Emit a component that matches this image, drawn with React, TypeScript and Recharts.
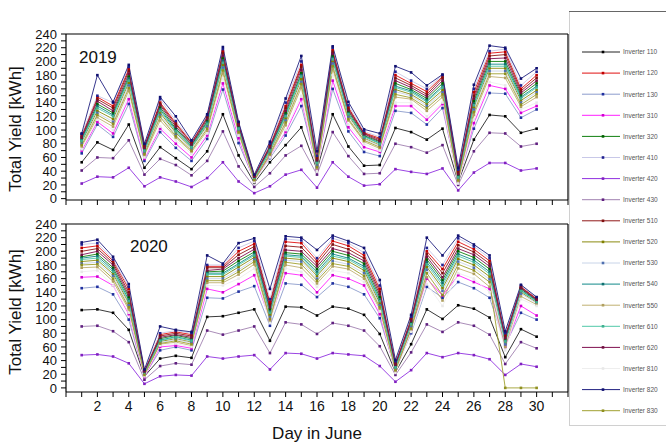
import React from "react";
import { LineChart, Line, XAxis, YAxis } from "recharts";

const days = [1, 2, 3, 4, 5, 6, 7, 8, 9, 10, 11, 12, 13, 14, 15, 16, 17, 18, 19, 20, 21, 22, 23, 24, 25, 26, 27, 28, 29, 30];
const xTicks = [0, 1, 2, 3, 4, 5, 6, 7, 8, 9, 10, 11, 12, 13, 14, 15, 16, 17, 18, 19, 20, 21, 22, 23, 24, 25, 26, 27, 28, 29, 30, 31, 32];
const yTicks = [0, 10, 20, 30, 40, 50, 60, 70, 80, 90, 100, 110, 120, 130, 140, 150, 160, 170, 180, 190, 200, 210, 220, 230, 240];

// June 2019, daily yield per inverter [kWh]
const inv110_2019 = [53, 82, 71, 108, 45, 75, 59, 43, 69, 123, 63, 23, 53, 78, 104, 42, 123, 76, 48, 49, 103, 97, 86, 102, 24, 86, 122, 120, 96, 102];
const inv120_2019 = [92, 148, 135, 189, 77, 140, 110, 82, 120, 215, 110, 33, 78, 135, 195, 60, 217, 133, 96, 88, 180, 168, 156, 178, 40, 155, 212, 214, 160, 180];
const inv130_2019 = [66, 108, 90, 138, 55, 97, 74, 55, 87, 159, 81, 27, 59, 92, 135, 45, 160, 98, 68, 62, 128, 125, 108, 132, 28, 102, 154, 153, 118, 130];
const inv310_2019 = [70, 112, 95, 145, 58, 102, 80, 60, 92, 168, 88, 25, 62, 97, 145, 42, 172, 104, 75, 68, 135, 135, 115, 138, 25, 110, 165, 160, 125, 135];
const inv320_2019 = [87, 138, 125, 178, 73, 133, 102, 78, 113, 205, 105, 31, 73, 125, 183, 55, 208, 127, 92, 83, 168, 159, 146, 168, 34, 142, 200, 200, 151, 168];
const inv410_2019 = [94, 150, 140, 192, 79, 145, 113, 84, 121, 218, 111, 34, 80, 140, 200, 62, 220, 136, 98, 90, 185, 172, 160, 180, 42, 160, 215, 218, 165, 185];
const inv420_2019 = [22, 32, 31, 45, 18, 31, 25, 17, 30, 53, 25, 8, 18, 35, 42, 16, 53, 32, 19, 21, 43, 39, 36, 44, 12, 38, 52, 52, 41, 44];
const inv430_2019 = [41, 60, 59, 85, 35, 58, 49, 34, 55, 98, 47, 17, 37, 63, 77, 35, 97, 62, 36, 37, 80, 75, 67, 78, 20, 69, 96, 95, 76, 80];
const inv510_2019 = [90, 145, 132, 186, 76, 138, 108, 81, 118, 212, 108, 33, 76, 132, 192, 58, 214, 131, 95, 86, 176, 165, 152, 176, 38, 150, 208, 210, 157, 176];
const inv520_2019 = [82, 128, 116, 169, 68, 125, 96, 74, 107, 195, 100, 29, 68, 117, 174, 50, 200, 121, 88, 78, 159, 152, 138, 158, 30, 133, 190, 190, 143, 158];
const inv530_2019 = [80, 125, 112, 165, 67, 122, 93, 72, 105, 191, 99, 28, 66, 114, 170, 48, 197, 119, 87, 77, 156, 150, 135, 155, 28, 130, 186, 186, 140, 155];
const inv540_2019 = [85, 135, 122, 175, 71, 130, 100, 76, 111, 201, 103, 30, 72, 122, 180, 53, 205, 124, 91, 81, 164, 157, 143, 164, 32, 138, 196, 196, 148, 164];
const inv550_2019 = [76, 118, 105, 157, 63, 114, 89, 68, 99, 183, 95, 26, 63, 107, 162, 44, 189, 114, 83, 73, 148, 145, 128, 148, 25, 122, 178, 176, 134, 148];
const inv610_2019 = [84, 132, 120, 172, 70, 128, 98, 75, 109, 198, 102, 30, 70, 120, 178, 52, 203, 123, 90, 80, 162, 155, 141, 162, 31, 136, 193, 193, 146, 162];
const inv620_2019 = [89, 142, 128, 182, 74, 136, 105, 79, 116, 208, 107, 32, 75, 128, 188, 56, 211, 129, 94, 84, 172, 162, 149, 172, 36, 146, 204, 205, 154, 172];
const inv810_2019 = [72, 115, 100, 150, 60, 105, 85, 65, 95, 175, 92, 24, 60, 100, 150, 40, 180, 108, 80, 70, 140, 140, 120, 140, 22, 115, 170, 165, 130, 140];
const inv820_2019 = [95, 180, 141, 195, 80, 148, 120, 85, 123, 221, 112, 35, 83, 146, 208, 69, 222, 141, 101, 95, 193, 184, 165, 181, 45, 166, 223, 220, 175, 190];
const inv830_2019 = [78, 122, 109, 161, 65, 119, 91, 70, 102, 187, 97, 27, 65, 111, 167, 46, 193, 116, 85, 75, 152, 147, 132, 152, 27, 126, 182, 182, 137, 152];

// June 2020
const inv110_2020 = [114, 115, 110, 85, 17, 43, 47, 44, 104, 105, 110, 115, 69, 119, 118, 106, 119, 116, 107, 79, 23, 64, 115, 101, 121, 116, 103, 45, 86, 75];
const inv120_2020 = [205, 208, 186, 145, 25, 78, 82, 78, 178, 178, 200, 211, 125, 214, 212, 186, 215, 208, 194, 145, 36, 102, 200, 174, 214, 203, 186, 77, 148, 131];
const inv130_2020 = [146, 148, 137, 100, 18, 55, 60, 55, 132, 131, 141, 149, 91, 153, 151, 133, 153, 148, 137, 102, 26, 80, 148, 132, 155, 146, 132, 63, 110, 100];
const inv310_2020 = [162, 163, 150, 108, 16, 60, 62, 58, 145, 140, 152, 165, 100, 168, 165, 140, 165, 160, 150, 108, 24, 85, 160, 135, 165, 155, 145, 60, 120, 106];
const inv320_2020 = [192, 196, 176, 133, 23, 72, 77, 72, 170, 171, 186, 199, 115, 198, 196, 174, 200, 194, 182, 133, 32, 96, 188, 158, 200, 191, 174, 71, 145, 128];
const inv410_2020 = [210, 212, 188, 148, 26, 80, 84, 80, 180, 180, 205, 215, 130, 218, 216, 190, 219, 212, 198, 150, 38, 104, 205, 180, 219, 207, 190, 80, 150, 132];
const inv420_2020 = [48, 49, 46, 36, 6, 17, 19, 18, 46, 43, 46, 48, 27, 51, 50, 43, 51, 49, 47, 32, 9, 26, 51, 45, 51, 48, 42, 19, 35, 31];
const inv430_2020 = [90, 91, 83, 67, 12, 32, 36, 34, 84, 78, 84, 90, 51, 96, 93, 79, 95, 91, 84, 61, 19, 52, 93, 82, 96, 91, 78, 35, 67, 58];
const inv510_2020 = [200, 204, 183, 140, 24, 76, 80, 76, 176, 176, 195, 207, 122, 208, 206, 182, 210, 203, 190, 141, 35, 100, 196, 168, 209, 199, 182, 75, 147, 130];
const inv520_2020 = [185, 187, 167, 124, 21, 68, 72, 67, 163, 163, 177, 191, 107, 190, 188, 164, 190, 185, 172, 124, 29, 91, 177, 146, 189, 180, 163, 66, 140, 125];
const inv530_2020 = [182, 184, 164, 121, 20, 66, 71, 66, 160, 160, 173, 188, 104, 187, 185, 160, 186, 181, 168, 121, 27, 89, 173, 142, 185, 176, 159, 64, 138, 124];
const inv540_2020 = [190, 193, 173, 129, 22, 70, 75, 70, 168, 168, 182, 196, 112, 195, 193, 170, 196, 190, 178, 129, 31, 94, 184, 154, 196, 187, 170, 69, 143, 127];
const inv550_2020 = [176, 177, 156, 115, 18, 64, 67, 62, 154, 154, 166, 181, 98, 180, 176, 153, 178, 174, 160, 115, 24, 85, 162, 128, 175, 167, 148, 60, 134, 122];
const inv610_2020 = [188, 190, 170, 127, 22, 69, 74, 69, 166, 166, 180, 194, 110, 193, 191, 167, 193, 188, 175, 127, 30, 93, 181, 150, 193, 184, 167, 68, 142, 126];
const inv620_2020 = [195, 200, 180, 136, 24, 74, 78, 74, 172, 174, 190, 203, 118, 202, 200, 178, 204, 198, 186, 137, 34, 98, 192, 162, 204, 195, 178, 73, 146, 129];
const inv810_2020 = [170, 172, 150, 110, 17, 62, 65, 60, 150, 150, 160, 175, 95, 175, 170, 148, 172, 168, 155, 112, 22, 82, 152, 120, 168, 160, 140, 55, 130, 120];
const inv820_2020 = [213, 217, 192, 152, 27, 90, 85, 82, 194, 182, 212, 219, 145, 222, 220, 202, 223, 215, 205, 158, 41, 107, 220, 194, 223, 210, 194, 83, 151, 133];
const inv830_2020 = [180, 181, 160, 118, 19, 65, 69, 64, 157, 157, 170, 185, 101, 184, 181, 157, 182, 178, 164, 118, 26, 87, 168, 136, 181, 172, 155, 0, 0, 0];

const series = [
  { key: "i110", name: "Inverter 110", line: "#222222", mark: "#000000", y19: inv110_2019, y20: inv110_2020 },
  { key: "i120", name: "Inverter 120", line: "#e01010", mark: "#c00000", y19: inv120_2019, y20: inv120_2020 },
  { key: "i130", name: "Inverter 130", line: "#8c9ccc", mark: "#2030a0", y19: inv130_2019, y20: inv130_2020 },
  { key: "i310", name: "Inverter 310", line: "#ff20ff", mark: "#d000d0", y19: inv310_2019, y20: inv310_2020 },
  { key: "i320", name: "Inverter 320", line: "#108010", mark: "#006000", y19: inv320_2019, y20: inv320_2020 },
  { key: "i410", name: "Inverter 410", line: "#c8c8e8", mark: "#202090", y19: inv410_2019, y20: inv410_2020 },
  { key: "i420", name: "Inverter 420", line: "#9030e0", mark: "#8020c0", y19: inv420_2019, y20: inv420_2020 },
  { key: "i430", name: "Inverter 430", line: "#a080b0", mark: "#602080", y19: inv430_2019, y20: inv430_2020 },
  { key: "i510", name: "Inverter 510", line: "#901818", mark: "#801010", y19: inv510_2019, y20: inv510_2020 },
  { key: "i520", name: "Inverter 520", line: "#8a8a10", mark: "#808000", y19: inv520_2019, y20: inv520_2020 },
  { key: "i530", name: "Inverter 530", line: "#c8d4e8", mark: "#5070b0", y19: inv530_2019, y20: inv530_2020 },
  { key: "i540", name: "Inverter 540", line: "#108888", mark: "#107070", y19: inv540_2019, y20: inv540_2020 },
  { key: "i550", name: "Inverter 550", line: "#c0b070", mark: "#b0a060", y19: inv550_2019, y20: inv550_2020 },
  { key: "i610", name: "Inverter 610", line: "#50c8a8", mark: "#40b090", y19: inv610_2019, y20: inv610_2020 },
  { key: "i620", name: "Inverter 620", line: "#801050", mark: "#701040", y19: inv620_2019, y20: inv620_2020 },
  { key: "i810", name: "Inverter 810", line: "#eeeeee", mark: "#e8e8e8", y19: inv810_2019, y20: inv810_2020 },
  { key: "i820", name: "Inverter 820", line: "#202080", mark: "#101070", y19: inv820_2019, y20: inv820_2020 },
  { key: "i830", name: "Inverter 830", line: "#a0a030", mark: "#909020", y19: inv830_2019, y20: inv830_2020 },
];

const rows2019 = days.map((d, i) => {
  const r: any = { day: d };
  series.forEach((s) => (r[s.key] = s.y19[i]));
  return r;
});
const rows2020 = days.map((d, i) => {
  const r: any = { day: d };
  series.forEach((s) => (r[s.key] = s.y20[i]));
  return r;
});

const font = "'Liberation Sans', Arial, sans-serif";

const makeDot = (color: string) => (p: any) => {
  if (p.cx == null || p.cy == null) return <g key={p.index} />;
  return <rect key={p.index} x={p.cx - 1.3} y={p.cy - 1.3} width={2.6} height={2.6} fill={color} />;
};

// only even days get a label, the rest keep just the tick line
const xTick = (show: boolean) => (p: any) => {
  const v = p.payload.value;
  if (!show || v % 2 !== 0 || v <= 0 || v >= 32) return <g />;
  return (
    <text x={p.x} y={p.y} dy="0.8em" textAnchor="middle" fontSize={14} fontFamily={font} fill="#111">
      {v}
    </text>
  );
};

const yTick = (p: any) => {
  const v = p.payload.value;
  if (v % 20 !== 0) return <g />;
  return (
    <text x={p.x} y={p.y} dy="0.36em" textAnchor="end" fontSize={13} fontFamily={font} fill="#111">
      {v}
    </text>
  );
};

function Panel({ rows, top, height, yMin, showLabels }: any) {
  return (
    <div style={{ position: "absolute", left: 0, top }}>
      <LineChart
        width={580}
        height={height}
        data={rows}
        margin={{ top: 32, right: 10, bottom: showLabels ? 0 : 2, left: 16 }}
      >
        <XAxis
          dataKey="day"
          type="number"
          domain={[0, 32]}
          ticks={xTicks}
          interval={0}
          height={showLabels ? 30 : 10}
          tickSize={5}
          tickMargin={3}
          tick={xTick(showLabels)}
          axisLine={{ stroke: "#000", strokeWidth: 1.2 }}
          tickLine={{ stroke: "#000" }}
        />
        <XAxis
          xAxisId="t"
          orientation="top"
          type="number"
          domain={[0, 32]}
          ticks={xTicks}
          interval={0}
          height={2}
          tickSize={-5}
          tick={false}
          axisLine={{ stroke: "#000", strokeWidth: 1.2 }}
          tickLine={{ stroke: "#000" }}
        />
        <YAxis
          type="number"
          domain={[yMin, 240]}
          allowDataOverflow
          ticks={yTicks}
          interval={0}
          width={50}
          tickSize={5}
          tickMargin={4}
          tick={yTick}
          axisLine={{ stroke: "#000", strokeWidth: 1.2 }}
          tickLine={{ stroke: "#000" }}
        />
        <YAxis
          yAxisId="r"
          orientation="right"
          type="number"
          domain={[yMin, 240]}
          allowDataOverflow
          ticks={yTicks}
          interval={0}
          width={2}
          tickSize={-5}
          tick={false}
          axisLine={{ stroke: "#000", strokeWidth: 1.2 }}
          tickLine={{ stroke: "#000" }}
        />
        {series.map((s) => (
          <Line
            key={s.key}
            dataKey={s.key}
            name={s.name}
            type="linear"
            stroke={s.line}
            strokeWidth={0.9}
            dot={makeDot(s.mark)}
            activeDot={false}
            isAnimationActive={false}
          />
        ))}
      </LineChart>
    </div>
  );
}

export default function App() {
  return (
    <div style={{ position: "absolute", left: 0, top: 0, width: 666, height: 443, background: "#fff", overflow: "hidden" }}>
      <Panel rows={rows2019} top={0} height={212} yMin={-2} showLabels={false} />
      <Panel rows={rows2020} top={190} height={232} yMin={-6} showLabels={true} />
      <svg width={666} height={443} style={{ position: "absolute", left: 0, top: 0, pointerEvents: "none" }}>
        <g fontFamily={font} fill="#111">
          <text x={79} y={63} fontSize={17}>2019</text>
          <text x={130} y={252} fontSize={17}>2020</text>
          <text x={15} y={129} fontSize={17} textAnchor="middle" dominantBaseline="central" transform="rotate(-90 15 129)">
            Total Yield [kWh]
          </text>
          <text x={15} y={312} fontSize={17} textAnchor="middle" dominantBaseline="central" transform="rotate(-90 15 312)">
            Total Yield [kWh]
          </text>
          <text x={317} y={439} fontSize={17} textAnchor="middle">Day in June</text>
        </g>
        <rect x={569.5} y={11.5} width={100} height={414} fill="none" stroke="#d0d0d0" />
        <line x1={569} y1={11.5} x2={666} y2={11.5} stroke="#666" />
        {series.map((s, i) => {
          const y = 52 + i * 21.1;
          return (
            <g key={s.key}>
              <line x1={582} y1={y} x2={620} y2={y} stroke={s.line} strokeWidth={1} />
              <rect x={601.7} y={y - 1.3} width={2.6} height={2.6} fill={s.mark} />
              <text x={623} y={y + 2.3} fontSize={6.5} fontFamily={font} fill="#555">{s.name}</text>
            </g>
          );
        })}
      </svg>
    </div>
  );
}
